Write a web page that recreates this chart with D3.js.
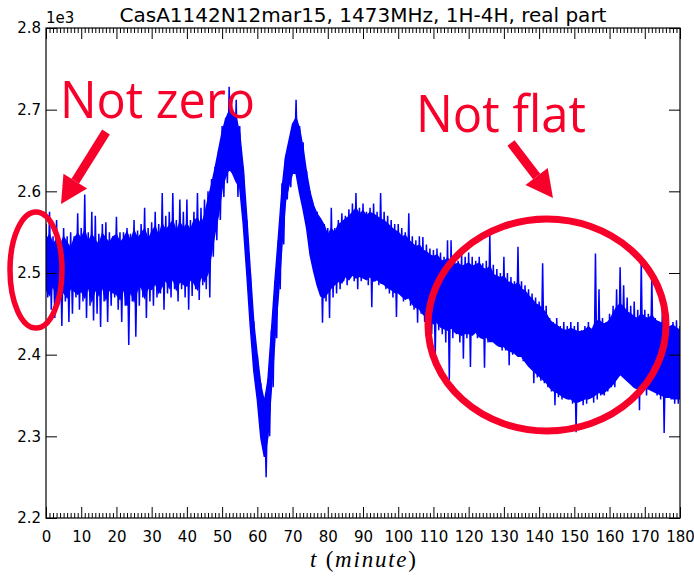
<!DOCTYPE html>
<html>
<head>
<meta charset="utf-8">
<script src="https://cdn.jsdelivr.net/npm/d3@7"></script>
<style>
  body { margin: 0; background: #fff; }
  svg { display: block; }
  .axis text { font-family: "DejaVu Sans", sans-serif; font-size: 15px; fill: #000; }
  .axis line { stroke: #000; }
  .axis path { display: none; }
</style>
</head>
<body>
<div id="chart"></div>
<script>
// frame
const WIDTH = 694;
const HEIGHT = 576;
const MARGINS = {left: 46, right: 14, top: 28, bottom: 58};

// per-minute extremes (spikes) of the real part
const upper = [
  2560, 2575, 2545, 2565, 2540, 2555, 2545, 2550, 2545, 2573,
  2555, 2596, 2550, 2575, 2570, 2548, 2560, 2562, 2550, 2545,
  2569, 2550, 2550, 2555, 2548, 2565, 2552, 2560, 2580, 2555,
  2562, 2575, 2560, 2598, 2570, 2575, 2598, 2565, 2590, 2575,
  2590, 2565, 2575, 2598, 2580, 2590, 2600, 2615, 2630, 2650,
  2680, 2690, 2728, 2700, 2712, 2680, 2630, 2565, 2500, 2440,
  2400, 2365, 2345, 2370, 2430, 2490, 2540, 2610, 2640, 2660,
  2680, 2712, 2680, 2660, 2625, 2600, 2580, 2575, 2565, 2560,
  2555, 2580, 2555, 2565, 2573, 2570, 2578, 2585, 2598, 2580,
  2585, 2575, 2580, 2585, 2575, 2598, 2575, 2570, 2565, 2560,
  2560, 2555, 2550, 2573, 2545, 2540, 2545, 2544, 2535, 2530,
  2528, 2530, 2525, 2520, 2540, 2540, 2520, 2515, 2525, 2520,
  2525, 2520, 2515, 2520, 2512, 2515, 2547, 2510, 2505, 2500,
  2520, 2500, 2495, 2490, 2532, 2490, 2485, 2480, 2475, 2470,
  2465, 2512, 2460, 2445, 2440, 2445, 2435, 2440, 2435, 2440,
  2435, 2440, 2430, 2435, 2440, 2430, 2524, 2480, 2445, 2440,
  2450, 2460, 2480, 2507, 2485, 2470, 2460, 2465, 2455, 2516,
  2455, 2450, 2495, 2445, 2440, 2457, 2440, 2435, 2440, 2442,
  2435
];
const lower = [
  2470, 2455, 2445, 2460, 2435, 2465, 2440, 2450, 2470, 2455,
  2465, 2445, 2460, 2442, 2450, 2434, 2465, 2440, 2460, 2470,
  2455, 2440, 2460, 2412, 2465, 2422, 2460, 2470, 2445, 2465,
  2460, 2470, 2475, 2455, 2475, 2470, 2480, 2465, 2480, 2470,
  2455, 2472, 2480, 2467, 2485, 2480, 2470, 2520, 2540, 2565,
  2593, 2610, 2630, 2620, 2593, 2600, 2560, 2505, 2440, 2380,
  2345, 2300, 2250, 2300, 2360, 2420, 2480, 2535, 2590, 2605,
  2625, 2620, 2595, 2575, 2555, 2520, 2500, 2490, 2439, 2465,
  2445, 2470, 2475, 2480, 2490, 2485, 2495, 2490, 2480, 2490,
  2495, 2485, 2458, 2490, 2485, 2495, 2480, 2475, 2470, 2446,
  2475, 2465, 2470, 2460, 2455, 2439, 2450, 2440, 2430, 2425,
  2397, 2430, 2425, 2415, 2369, 2420, 2425, 2415, 2395, 2420,
  2385, 2425, 2420, 2420, 2384, 2415, 2420, 2415, 2410, 2405,
  2405, 2387, 2400, 2405, 2400, 2392, 2395, 2390, 2365, 2372,
  2368, 2365, 2360, 2355, 2338, 2348, 2345, 2350, 2345, 2340,
  2305, 2345, 2338, 2340, 2350, 2341, 2345, 2350, 2350, 2355,
  2360, 2360, 2375, 2385, 2380, 2370, 2365, 2360, 2332, 2355,
  2350, 2360, 2355, 2350, 2345, 2304, 2350, 2345, 2340, 2340,
  2340
];

// per-minute dense core of the noise band
const coreHi = [
  2540, 2547, 2534, 2542, 2532, 2544, 2537, 2530, 2542, 2548,
  2542, 2552, 2537, 2547, 2540, 2534, 2548, 2542, 2537, 2544,
  2547, 2537, 2542, 2550, 2538, 2552, 2542, 2548, 2554, 2540,
  2550, 2557, 2544, 2560, 2552, 2558, 2564, 2550, 2562, 2554,
  2560, 2552, 2564, 2567, 2558, 2570, 2590, 2608, 2628, 2650,
  2672, 2688, 2698, 2694, 2690, 2670, 2628, 2568, 2502, 2438,
  2398, 2362, 2342, 2368, 2428, 2490, 2545, 2602, 2642, 2662,
  2682, 2690, 2676, 2652, 2622, 2598, 2582, 2572, 2566, 2558,
  2546, 2554, 2549, 2559, 2562, 2566, 2569, 2574, 2579, 2572,
  2576, 2570, 2574, 2572, 2569, 2566, 2564, 2560, 2556, 2552,
  2550, 2544, 2546, 2540, 2536, 2532, 2534, 2528, 2526, 2522,
  2520, 2522, 2516, 2514, 2518, 2514, 2510, 2512, 2508, 2510,
  2512, 2508, 2510, 2512, 2506, 2504, 2508, 2498, 2496, 2494,
  2496, 2489, 2488, 2484, 2488, 2480, 2478, 2472, 2468, 2462,
  2460, 2456, 2450, 2442, 2438, 2436, 2432, 2430, 2430, 2432,
  2430, 2428, 2428, 2430, 2434, 2430, 2440, 2442, 2438, 2438,
  2442, 2450, 2458, 2462, 2458, 2452, 2450, 2446, 2444, 2450,
  2446, 2444, 2448, 2442, 2440, 2438, 2436, 2434, 2436, 2432,
  2430
];
const coreLo = [
  2480, 2473, 2486, 2468, 2483, 2476, 2470, 2482, 2478, 2474,
  2478, 2470, 2484, 2466, 2480, 2473, 2483, 2468, 2480, 2476,
  2474, 2468, 2482, 2460, 2478, 2466, 2480, 2484, 2470, 2482,
  2480, 2488, 2476, 2484, 2492, 2482, 2494, 2480, 2490, 2486,
  2484, 2492, 2488, 2480, 2496, 2490, 2500, 2525, 2550, 2572,
  2604, 2618, 2628, 2622, 2612, 2605, 2560, 2500, 2435, 2380,
  2345, 2298, 2275, 2300, 2360, 2420, 2475, 2535, 2588, 2608,
  2622, 2622, 2598, 2578, 2555, 2522, 2502, 2485, 2472, 2470,
  2476, 2482, 2486, 2490, 2488, 2496, 2492, 2498, 2494, 2496,
  2494, 2492, 2496, 2490, 2492, 2488, 2486, 2482, 2480, 2476,
  2476, 2472, 2468, 2470, 2462, 2458, 2456, 2450, 2446, 2442,
  2438, 2440, 2434, 2432, 2430, 2434, 2428, 2426, 2424, 2426,
  2426, 2424, 2428, 2422, 2420, 2422, 2416, 2416, 2412, 2410,
  2410, 2406, 2404, 2402, 2398, 2398, 2392, 2386, 2382, 2378,
  2374, 2370, 2366, 2360, 2356, 2354, 2351, 2348, 2346, 2346,
  2342, 2342, 2344, 2346, 2346, 2348, 2351, 2354, 2352, 2356,
  2360, 2364, 2370, 2376, 2372, 2368, 2364, 2360, 2358, 2360,
  2361, 2358, 2356, 2354, 2352, 2350, 2348, 2348, 2346, 2346,
  2346
];

// ticks
const xTicks = [0, 10, 20, 30, 40, 50, 60, 70, 80, 90, 100, 110, 120, 130, 140, 150, 160, 170, 180];
const yTicks = [2200, 2300, 2400, 2500, 2600, 2700, 2800];
const xMinorTicks = d3.range(0, 181).filter((t) => t % 10 !== 0);

const TITLE = "CasA1142N12mar15, 1473MHz, 1H-4H, real part";
const RED = "#f7002a";
const BLUE = "#0000ff";

const svg = d3.select("#chart")
  .append("svg")
    .attr("width", WIDTH)
    .attr("height", HEIGHT);

const x = d3.scaleLinear()
  .domain([0, 180])
  .range([MARGINS.left, WIDTH - MARGINS.right]);

const y = d3.scaleLinear()
  .domain([2200, 2800])
  .range([HEIGHT - MARGINS.bottom, MARGINS.top]);

const plotBottom = y(2200);
const plotTop = y(2800);

// clip to the plot area
svg.append("clipPath")
    .attr("id", "plot-clip")
  .append("rect")
    .attr("x", x(0))
    .attr("y", plotTop)
    .attr("width", x(180) - x(0))
    .attr("height", plotBottom - plotTop);

const plot = svg.append("g").attr("clip-path", "url(#plot-clip)");

// dense core of the band
plot.append("path")
    .datum(coreHi.map((v, i) => [i, coreLo[i], v]))
    .attr("fill", BLUE)
    .attr("stroke", BLUE)
    .attr("stroke-width", 1.5)
    .attr("d", d3.area().x((d) => x(d[0])).y0((d) => y(d[1])).y1((d) => y(d[2])));

// signal: max of each minute, then its min half a minute later
const points = [];
upper.forEach((u, i) => {
  points.push([i, u]);
  if (i < upper.length - 1) points.push([i + 0.5, lower[i]]);
});

plot.append("path")
    .datum(points)
    .attr("fill", "none")
    .attr("stroke", BLUE)
    .attr("stroke-width", 1.5)
    .attr("d", d3.line().x((d) => x(d[0])).y((d) => y(d[1])));

// axes, ticks point inwards
svg.append("g")
    .attr("class", "axis")
    .attr("transform", `translate(0,${plotBottom})`)
    .call(d3.axisBottom(x).tickValues(xTicks).tickSizeInner(-11).tickSizeOuter(0).tickPadding(13));

svg.append("g")
    .attr("class", "axis")
    .attr("transform", `translate(0,${plotBottom})`)
    .call(d3.axisBottom(x).tickValues(xMinorTicks).tickSizeInner(-5).tickSizeOuter(0).tickFormat(""));

svg.append("g")
    .attr("class", "axis")
    .attr("transform", `translate(0,${plotTop})`)
    .call(d3.axisTop(x).tickValues(xTicks).tickSizeInner(-11).tickSizeOuter(0).tickFormat(""));

svg.append("g")
    .attr("class", "axis")
    .attr("transform", `translate(0,${plotTop})`)
    .call(d3.axisTop(x).tickValues(xMinorTicks).tickSizeInner(-5).tickSizeOuter(0).tickFormat(""));

svg.append("g")
    .attr("class", "axis")
    .attr("transform", `translate(${x(0)},0)`)
    .call(d3.axisLeft(y).tickValues(yTicks).tickSizeInner(-11).tickSizeOuter(0).tickPadding(5)
      .tickFormat((d) => (d / 1000).toFixed(1)));

svg.append("g")
    .attr("class", "axis")
    .attr("transform", `translate(${x(180)},0)`)
    .call(d3.axisRight(y).tickValues(yTicks).tickSizeInner(-11).tickSizeOuter(0).tickFormat(""));

// frame
svg.append("rect")
    .attr("x", x(0))
    .attr("y", plotTop)
    .attr("width", x(180) - x(0))
    .attr("height", plotBottom - plotTop)
    .attr("fill", "none")
    .attr("stroke", "#000")
    .attr("stroke-width", 1.2);

// title, offset label and x label
svg.append("text")
    .attr("x", (x(0) + x(180)) / 2)
    .attr("y", 22)
    .attr("text-anchor", "middle")
    .style("font-family", "DejaVu Sans, sans-serif")
    .style("font-size", "20px")
    .text(TITLE);

svg.append("text")
    .attr("x", x(0))
    .attr("y", 23)
    .style("font-family", "DejaVu Sans, sans-serif")
    .style("font-size", "15px")
    .text("1e3");

const xlabel = svg.append("text")
    .attr("x", (x(0) + x(180)) / 2)
    .attr("y", 567)
    .attr("text-anchor", "middle")
    .attr("textLength", 106)
    .attr("lengthAdjust", "spacing")
    .style("font-family", "Liberation Serif, serif")
    .style("font-size", "23px");
xlabel.append("tspan").style("font-style", "italic").text("t");
xlabel.append("tspan").text(" (");
xlabel.append("tspan").style("font-style", "italic").text("minute");
xlabel.append("tspan").text(")");

// annotations
function arrow(x1, y1, x2, y2) {
  const len = Math.hypot(x2 - x1, y2 - y1);
  const ux = (x2 - x1) / len, uy = (y2 - y1) / len;
  const bx = x2 - 27 * ux, by = y2 - 27 * uy;
  svg.append("line")
      .attr("x1", x1).attr("y1", y1)
      .attr("x2", bx).attr("y2", by)
      .attr("stroke", RED)
      .attr("stroke-width", 9);
  svg.append("polygon")
      .attr("points", [[x2, y2], [bx - 14 * uy, by + 14 * ux], [bx + 14 * uy, by - 14 * ux]].join(" "))
      .attr("fill", RED);
}

svg.append("text")
    .attr("x", 60)
    .attr("y", 118)
    .attr("textLength", 195)
    .attr("lengthAdjust", "spacingAndGlyphs")
    .attr("fill", RED)
    .style("font-family", "Open Sans, sans-serif")
    .style("font-size", "52px")
    .text("Not zero");

svg.append("text")
    .attr("x", 416)
    .attr("y", 132)
    .attr("textLength", 170)
    .attr("lengthAdjust", "spacingAndGlyphs")
    .attr("fill", RED)
    .style("font-family", "Open Sans, sans-serif")
    .style("font-size", "52px")
    .text("Not flat");

arrow(106, 132, 61, 204);
arrow(511, 143, 553, 198);

svg.append("ellipse")
    .attr("cx", 36)
    .attr("cy", 270)
    .attr("rx", 26)
    .attr("ry", 58)
    .attr("fill", "none")
    .attr("stroke", RED)
    .attr("stroke-width", 5.5);

svg.append("ellipse")
    .attr("cx", 547)
    .attr("cy", 325)
    .attr("rx", 119)
    .attr("ry", 106)
    .attr("fill", "none")
    .attr("stroke", RED)
    .attr("stroke-width", 7);
</script>
</body>
</html>
